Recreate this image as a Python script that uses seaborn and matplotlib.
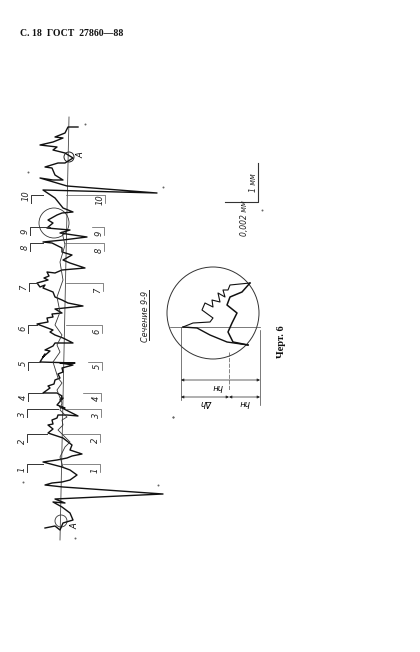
import numpy as np
import pandas as pd
import matplotlib
matplotlib.use("Agg")
import matplotlib.pyplot as plt
import seaborn as sns

# ---- data, everything in page pixels (x across, y down)
profile_x = [45, 55, 60, 63, 73, 70, 62, 53, 65, 55, 163, 63, 45, 52, 62, 70, 77, 70, 62, 43,
             57, 67, 72, 82, 70, 72, 63, 57, 48,
             53, 48, 53, 52, 57, 58, 67, 78, 60, 65, 57, 63, 60, 62, 57, 43,
             50, 48, 54, 55, 60, 58, 63, 62, 73, 60, 75, 40,
             45, 43, 50, 45, 53, 55, 63, 73, 63, 55, 50, 53, 37,
             48, 47, 53, 52, 62, 55, 83, 68, 62, 55, 53, 43, 45, 40, 37,
             48, 44, 49, 47, 55, 62, 85, 70, 63, 72, 62, 62, 52, 43,
             63, 87, 60, 70, 47, 53, 48, 57, 62, 73, 63, 55, 43,
             157, 67, 40, 53, 63, 55, 52, 45, 58, 65, 73, 65, 53, 57, 40, 53, 63, 55, 65, 68, 78]
profile_y = [528, 526, 530, 523, 520, 513, 507, 502, 503, 499, 494, 487, 485, 483, 482, 480, 475, 470, 467, 462,
             460, 458, 456, 454, 450, 445, 438, 436, 433,
             429, 425, 424, 420, 418, 415, 415, 416, 407, 408, 405, 398, 400, 396, 393, 393,
             388, 386, 384, 380, 378, 374, 372, 368, 365, 363, 363, 362,
             354, 357, 351, 350, 346, 343, 343, 343, 338, 335, 332, 330, 324,
             322, 318, 317, 314, 313, 309, 306, 303, 300, 297, 292, 288, 285, 287, 283,
             280, 278, 276, 272, 273, 270, 268, 263, 260, 255, 252, 248, 243, 242,
             240, 237, 233, 230, 228, 223, 220, 215, 213, 212, 208, 198, 190,
             193, 186, 178, 180, 180, 175, 168, 167, 163, 163, 158, 153, 150, 147, 145, 142, 138, 137, 133, 127, 127]

second_x = [63, 60, 62, 65, 70, 63, 58, 63, 62, 67, 60, 62, 57, 62, 58, 53, 60, 57, 62, 55, 60, 57, 63, 60, 65, 62]
second_y = [467, 457, 453, 447, 442, 435, 430, 425, 420, 417, 410, 403, 390, 383, 378, 362, 352, 345, 335, 325, 312, 297, 280, 262, 245, 232]

detail_jag_x = [250, 230, 228, 223, 225, 218, 220, 212, 213, 205, 202, 213, 210, 193, 183]
detail_jag_y = [283, 285, 290, 290, 297, 293, 302, 300, 307, 303, 310, 318, 322, 323, 327]
detail_low_x = [250, 242, 230, 227, 237, 232, 228, 233, 248]
detail_low_y = [283, 292, 297, 305, 313, 323, 332, 342, 345]
detail_base_x = [183, 197, 210, 227, 248]
detail_base_y = [327, 328, 335, 342, 345]

section_names = ["1", "2", "3", "4", "5", "6", "7", "8", "9", "10"]
section_y = [464, 434, 409, 393, 362, 325, 283, 243, 227, 195]
section_top = [27, 27, 27, 28, 28, 28, 29, 30, 30, 31]
section_low = [100, 100, 101, 101, 102, 102, 103, 104, 104, 105]
section_tip = [43, 47, 58, 43, 40, 37, 37, 43, 50, 43]
section_low_end = [63, 63, 66, 83, 88, 66, 66, 65, 92, 66]
top_label_y = [469, 441, 414, 397, 363, 328, 287, 247, 231, 196]
low_label_y = [470, 440, 415, 398, 366, 331, 290, 250, 233, 200]

axis_x = [60, 69]
axis_y = [540, 117]
speck_x = [85, 28, 163, 23, 158, 173, 75, 262, 173]
speck_y = [124, 172, 187, 482, 485, 417, 538, 210, 417]

df = pd.DataFrame({"x": profile_x, "y": profile_y})


def trace(xs, ys, ax, lw=0.8, color="#1c1c1c", **kw):
    sns.lineplot(x=xs, y=ys, sort=False, estimator=None, color=color, lw=lw, ax=ax, **kw)


fig, ax = plt.subplots(figsize=(4.2, 6.52), dpi=100)
fig.subplots_adjust(0, 0, 1, 1)
ax.set_xlim(0, 420)
ax.set_ylim(652, 0)
ax.axis("off")

serif = "Liberation Serif"

# header
ax.text(20, 33, "С. 18  ГОСТ  27860—88", family=serif, weight="bold", fontsize=7.0, va="center", color="#111111")

# profile with its reference line
trace(axis_x, axis_y, ax, lw=0.6, color="#444444")
trace(df.x, df.y, ax, lw=1.0, color="#111111")
trace(second_x, second_y, ax, lw=0.6, color="#333333")

# section marks
for name, y, top, low, tip, low_end, ty, ly in zip(section_names, section_y, section_top, section_low,
                                                   section_tip, section_low_end, top_label_y, low_label_y):
    trace([top, top, tip], [y + 8, y, y], ax, lw=0.7, color="#333333")
    trace([low, low, low_end], [y + 8, y, y], ax, lw=0.5, color="#555555")
    ax.text(top - 5, ty, name, rotation=90, style="italic", fontsize=6, ha="center", va="center", color="#222222")
    ax.text(low - 5, ly, name, rotation=90, style="italic", fontsize=6, ha="center", va="center", color="#222222")

# circles
ax.add_patch(plt.Circle((54, 223), 15, fill=False, ec="#333333", lw=0.6))
ax.add_patch(plt.Circle((69, 157), 5, fill=False, ec="#222222", lw=0.7))
ax.add_patch(plt.Circle((61, 521), 6, fill=False, ec="#333333", lw=0.6))
ax.add_patch(plt.Circle((213, 313), 46, fill=False, ec="#333333", lw=0.7))
ax.text(81, 155, "А", rotation=90, style="italic", fontsize=6, ha="center", va="center")
ax.text(75, 526, "А", rotation=90, style="italic", fontsize=6, ha="center", va="center")

# section 9-9 detail
trace([170, 260], [327, 327], ax, lw=0.5, color="#444444")
trace(detail_jag_x, detail_jag_y, ax, lw=0.8, color="#111111")
trace(detail_low_x, detail_low_y, ax, lw=1.1, color="#111111")
trace(detail_base_x, detail_base_y, ax, lw=1.0, color="#111111")

# dimension lines
trace([181, 181], [327, 400], ax, lw=0.5, color="#444444")
trace([260, 260], [330, 405], ax, lw=0.5, color="#444444")
trace([229, 229], [352, 390], ax, lw=0.5, color="#555555", linestyle=(0, (6, 2)))
for x0, x1, y in [(181, 260, 380), (181, 229, 397), (229, 260, 397)]:
    ax.annotate("", xy=(x0, y), xytext=(x1, y),
                arrowprops=dict(arrowstyle="<|-|>", lw=0.5, color="#222222", mutation_scale=4, shrinkA=0, shrinkB=0))
ax.text(217, 386, "hн", rotation=180, style="italic", fontsize=6, ha="center", va="center")
ax.text(207, 402, "Δh", rotation=180, style="italic", fontsize=6, ha="center", va="center")
ax.text(244, 403, "hн", rotation=180, style="italic", fontsize=6, ha="center", va="center")

ax.text(145, 316, "Сечение 9-9", rotation=90, style="italic", fontsize=5.8, ha="center", va="center", color="#222222")
trace([149, 149], [340, 290], ax, lw=0.7, color="#222222")
ax.text(281, 342, "Черт. 6", rotation=90, family=serif, weight="bold", fontsize=7.5, ha="center", va="center", color="#111111")

# scale
trace([225, 258, 258], [202, 202, 163], ax, lw=0.8, color="#333333")
ax.text(253, 183, "1 мм", rotation=90, style="italic", fontsize=5.5, ha="center", va="center", color="#222222")
ax.text(245, 218, "0,002 мм", rotation=90, style="italic", fontsize=5.5, ha="center", va="center", color="#222222")

# specks
ax.scatter(speck_x, speck_y, s=2, color="#666666", linewidths=0)

fig.savefig("out.png", dpi=100)
